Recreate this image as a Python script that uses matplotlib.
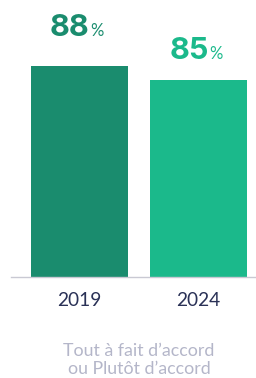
import matplotlib
matplotlib.use("Agg")
import matplotlib.pyplot as plt
from matplotlib.transforms import offset_copy

years = ["2019", "2024"]
values = [88, 85]
colors = ["#1a8c6e", "#1bb98b"]
label_colors = ["#1a8c6e", "#1bb98b"]
caption_lines = ["Tout à fait d’accord", "ou Plutôt d’accord"]

DPI = 100
fig = plt.figure(figsize=(2.56, 3.78), dpi=DPI)
ax = fig.add_axes([11/256, 101/378, 245/256, 277/378])

x = list(range(len(years)))
ax.bar(x, values, width=0.815, color=colors, zorder=2)
ax.set_xlim(-0.576, 1.483)
ax.set_ylim(42.8, 102)

for s in ["top", "right", "left"]:
    ax.spines[s].set_visible(False)
ax.spines["bottom"].set_color("#c9c9d3")
ax.spines["bottom"].set_linewidth(1.0)
ax.set_yticks([])
ax.set_xticks(x)
ax.set_xticklabels(years, fontfamily="Lato", fontsize=13.8, color="#2a3156")
ax.tick_params(axis="x", length=0, pad=11)

gaps_px = [30, 21]
for xi, v, c, g in zip(x, values, label_colors, gaps_px):
    t1 = offset_copy(ax.transData, fig=fig, x=10*72/DPI, y=g*72/DPI, units="points")
    ax.text(xi, v, f"{v}", transform=t1, ha="right", va="baseline",
            fontfamily="Inter", fontweight="bold", fontsize=22, color=c)
    t2 = offset_copy(ax.transData, fig=fig, x=11*72/DPI, y=g*72/DPI, units="points")
    ax.text(xi, v, "%", transform=t2, ha="left", va="baseline",
            fontfamily="Lato", fontweight="normal", fontsize=12, color=c)

for i, line in enumerate(caption_lines):
    fig.text(139/256, 1 - (356 + 18.5*i)/378, line, ha="center", va="baseline",
             fontfamily="Lato", fontsize=12.8, color="#b4b6c9")

fig.savefig("out.png", dpi=DPI)
